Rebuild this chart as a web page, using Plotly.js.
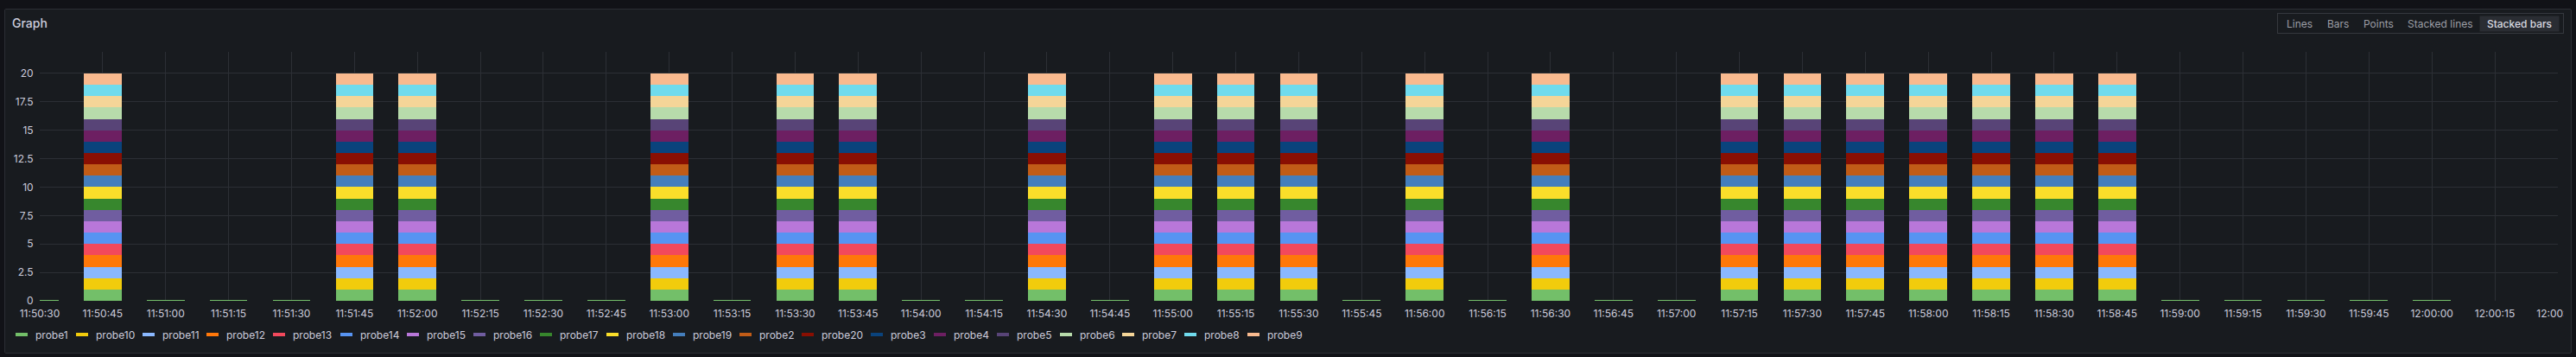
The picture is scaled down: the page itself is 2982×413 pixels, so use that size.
<!DOCTYPE html>
<html>
<head>
<meta charset="utf-8">
<script src="https://cdn.plot.ly/plotly-3.0.1.min.js"></script>
<style>
  html, body { margin: 0; padding: 0; background: #111217; width: 2982px; height: 413px; overflow: hidden; }
  #panel { position: absolute; left: 5px; top: 10px; width: 2972px; height: 399px; box-sizing: border-box;
           border: 1px solid #2b2e34; border-radius: 2px; background: #181b1f; }
  #chart { width: 2962px; height: 397px; overflow: hidden; }
</style>
</head>
<body>
<div id="panel"><div id="chart"></div></div>
<script>
// ---------- data ----------
const times = [
  '2024-01-01 11:50:30', '2024-01-01 11:50:45', '2024-01-01 11:51:00', '2024-01-01 11:51:15',
  '2024-01-01 11:51:30', '2024-01-01 11:51:45', '2024-01-01 11:52:00', '2024-01-01 11:52:15',
  '2024-01-01 11:52:30', '2024-01-01 11:52:45', '2024-01-01 11:53:00', '2024-01-01 11:53:15',
  '2024-01-01 11:53:30', '2024-01-01 11:53:45', '2024-01-01 11:54:00', '2024-01-01 11:54:15',
  '2024-01-01 11:54:30', '2024-01-01 11:54:45', '2024-01-01 11:55:00', '2024-01-01 11:55:15',
  '2024-01-01 11:55:30', '2024-01-01 11:55:45', '2024-01-01 11:56:00', '2024-01-01 11:56:15',
  '2024-01-01 11:56:30', '2024-01-01 11:56:45', '2024-01-01 11:57:00', '2024-01-01 11:57:15',
  '2024-01-01 11:57:30', '2024-01-01 11:57:45', '2024-01-01 11:58:00', '2024-01-01 11:58:15',
  '2024-01-01 11:58:30', '2024-01-01 11:58:45', '2024-01-01 11:59:00', '2024-01-01 11:59:15',
  '2024-01-01 11:59:30', '2024-01-01 11:59:45', '2024-01-01 12:00:00'
];
const xRange = ['2024-01-01 11:50:30', '2024-01-01 12:00:30.02'];

const probe1  = [0,1,0,0,0,1,1,0,0,0,1,0,1,1,0,0,1,0,1,1,1,0,1,0,1,0,0,1,1,1,1,1,1,1,0,0,0,0,0];
const probe10 = [0,1,0,0,0,1,1,0,0,0,1,0,1,1,0,0,1,0,1,1,1,0,1,0,1,0,0,1,1,1,1,1,1,1,0,0,0,0,0];
const probe11 = [0,1,0,0,0,1,1,0,0,0,1,0,1,1,0,0,1,0,1,1,1,0,1,0,1,0,0,1,1,1,1,1,1,1,0,0,0,0,0];
const probe12 = [0,1,0,0,0,1,1,0,0,0,1,0,1,1,0,0,1,0,1,1,1,0,1,0,1,0,0,1,1,1,1,1,1,1,0,0,0,0,0];
const probe13 = [0,1,0,0,0,1,1,0,0,0,1,0,1,1,0,0,1,0,1,1,1,0,1,0,1,0,0,1,1,1,1,1,1,1,0,0,0,0,0];
const probe14 = [0,1,0,0,0,1,1,0,0,0,1,0,1,1,0,0,1,0,1,1,1,0,1,0,1,0,0,1,1,1,1,1,1,1,0,0,0,0,0];
const probe15 = [0,1,0,0,0,1,1,0,0,0,1,0,1,1,0,0,1,0,1,1,1,0,1,0,1,0,0,1,1,1,1,1,1,1,0,0,0,0,0];
const probe16 = [0,1,0,0,0,1,1,0,0,0,1,0,1,1,0,0,1,0,1,1,1,0,1,0,1,0,0,1,1,1,1,1,1,1,0,0,0,0,0];
const probe17 = [0,1,0,0,0,1,1,0,0,0,1,0,1,1,0,0,1,0,1,1,1,0,1,0,1,0,0,1,1,1,1,1,1,1,0,0,0,0,0];
const probe18 = [0,1,0,0,0,1,1,0,0,0,1,0,1,1,0,0,1,0,1,1,1,0,1,0,1,0,0,1,1,1,1,1,1,1,0,0,0,0,0];
const probe19 = [0,1,0,0,0,1,1,0,0,0,1,0,1,1,0,0,1,0,1,1,1,0,1,0,1,0,0,1,1,1,1,1,1,1,0,0,0,0,0];
const probe2  = [0,1,0,0,0,1,1,0,0,0,1,0,1,1,0,0,1,0,1,1,1,0,1,0,1,0,0,1,1,1,1,1,1,1,0,0,0,0,0];
const probe20 = [0,1,0,0,0,1,1,0,0,0,1,0,1,1,0,0,1,0,1,1,1,0,1,0,1,0,0,1,1,1,1,1,1,1,0,0,0,0,0];
const probe3  = [0,1,0,0,0,1,1,0,0,0,1,0,1,1,0,0,1,0,1,1,1,0,1,0,1,0,0,1,1,1,1,1,1,1,0,0,0,0,0];
const probe4  = [0,1,0,0,0,1,1,0,0,0,1,0,1,1,0,0,1,0,1,1,1,0,1,0,1,0,0,1,1,1,1,1,1,1,0,0,0,0,0];
const probe5  = [0,1,0,0,0,1,1,0,0,0,1,0,1,1,0,0,1,0,1,1,1,0,1,0,1,0,0,1,1,1,1,1,1,1,0,0,0,0,0];
const probe6  = [0,1,0,0,0,1,1,0,0,0,1,0,1,1,0,0,1,0,1,1,1,0,1,0,1,0,0,1,1,1,1,1,1,1,0,0,0,0,0];
const probe7  = [0,1,0,0,0,1,1,0,0,0,1,0,1,1,0,0,1,0,1,1,1,0,1,0,1,0,0,1,1,1,1,1,1,1,0,0,0,0,0];
const probe8  = [0,1,0,0,0,1,1,0,0,0,1,0,1,1,0,0,1,0,1,1,1,0,1,0,1,0,0,1,1,1,1,1,1,1,0,0,0,0,0];
const probe9  = [0,1,0,0,0,1,1,0,0,0,1,0,1,1,0,0,1,0,1,1,1,0,1,0,1,0,0,1,1,1,1,1,1,1,0,0,0,0,0];

const seriesNames = ['probe1','probe10','probe11','probe12','probe13','probe14','probe15','probe16','probe17','probe18',
                     'probe19','probe2','probe20','probe3','probe4','probe5','probe6','probe7','probe8','probe9'];
const seriesValues = [probe1, probe10, probe11, probe12, probe13, probe14, probe15, probe16, probe17, probe18,
                      probe19, probe2, probe20, probe3, probe4, probe5, probe6, probe7, probe8, probe9];
const seriesColors = ['#73BF69','#F2CC0C','#8AB8FF','#FF780A','#F2495C','#5794F2','#B877D9','#705DA0','#37872D','#FADE2A',
                      '#447EBC','#C15C17','#890F02','#0A437C','#6D1F62','#584477','#B7DBAB','#F4D598','#70DBED','#F9BA8F'];

const yTickVals = [0, 2.5, 5, 7.5, 10, 12.5, 15, 17.5, 20];
const yTickText = ['0', '2.5', '5', '7.5', '10', '12.5', '15', '17.5', '20'];
const buttonLabels = ['Lines', 'Bars', 'Points', 'Stacked lines', 'Stacked bars'];
const activeButton = 4;

// ---------- geometry helpers (page pixels) ----------
const PLOT_LEFT = 46, PLOT_TOP = 60, PLOT_BOTTOM = 348;
const CHART_W = 2962;
const ctx = document.createElement('canvas').getContext('2d');
function textWidth(t, size, weight) {
  ctx.font = (weight || 400) + ' ' + size + 'px Inter';
  return ctx.measureText(t).width;
}

// ---------- traces ----------
const traces = seriesNames.map((name, i) => ({
  type: 'bar',
  name: name,
  x: times,
  y: seriesValues[i],
  marker: {
    color: seriesColors[i],
    line: { color: seriesColors[i], width: i === 0 ? seriesValues[i].map(v => v === 0 ? 3 : 0) : 0 }
  },
  showlegend: false,
  hovertemplate: name + ': %{y}<extra></extra>'
}));

// ---------- annotations: legend + view buttons ----------
const annotations = [];
let lx = 18;
const legendY = 387;
seriesNames.forEach((name, i) => {
  annotations.push({
    xref: 'paper', yref: 'paper', x: 0, y: 0, xanchor: 'left', yanchor: 'middle',
    xshift: lx - PLOT_LEFT, yshift: PLOT_BOTTOM - legendY,
    text: '\u00a0', width: 14, height: 4, bgcolor: seriesColors[i], borderpad: 0, borderwidth: 0,
    font: { size: 2 }, showarrow: false
  });
  annotations.push({
    xref: 'paper', yref: 'paper', x: 0, y: 0, xanchor: 'left', yanchor: 'middle',
    xshift: lx + 22 - PLOT_LEFT, yshift: PLOT_BOTTOM - legendY,
    text: name, borderpad: 0, font: { size: 12, color: '#ccccdc', family: 'Inter, sans-serif' }, showarrow: false
  });
  lx += 22 + textWidth(name, 12, 400) + 10;
});

// button group box
annotations.push({
  xref: 'paper', yref: 'paper', x: 0, y: 1, xanchor: 'left', yanchor: 'top',
  xshift: 2636 - PLOT_LEFT, yshift: PLOT_TOP - 15,
  text: '\u00a0', width: 330, height: 22, borderwidth: 1, bordercolor: '#35383e', borderpad: 0,
  bgcolor: 'rgba(0,0,0,0)', font: { size: 2 }, showarrow: false
});
let bx = 2647;
buttonLabels.forEach((lab, i) => {
  const active = i === activeButton;
  const w = textWidth(lab, 12, active ? 500 : 400);
  const cx = bx + w / 2;
  annotations.push({
    xref: 'paper', yref: 'paper', x: 0, y: 1, xanchor: 'center', yanchor: 'middle',
    xshift: cx - PLOT_LEFT, yshift: PLOT_TOP - 27,
    text: lab, showarrow: false, borderpad: 0,
    width: active ? Math.round(w + 16) : null, height: active ? 17 : null,
    bgcolor: active ? '#2a2d33' : 'rgba(0,0,0,0)',
    font: { size: 12, family: 'Inter, sans-serif', color: active ? '#d8d9e0' : '#9b9da5', weight: active ? 500 : 400 }
  });
  bx += w + 16.5;
});

// ---------- layout ----------
const layout = {
  width: CHART_W, height: 397,
  margin: { l: 40, r: 7, t: 49, b: 60, pad: 0 },
  paper_bgcolor: '#181b1f', plot_bgcolor: '#181b1f',
  barmode: 'stack', bargap: 0.4,
  font: { family: 'Inter, sans-serif', size: 12, color: '#ccccdc' },
  title: {
    text: 'Graph', xref: 'container', yref: 'container',
    x: 8 / CHART_W, xanchor: 'left', y: 1 - 16 / 397, yanchor: 'middle',
    font: { size: 14, weight: 500, color: '#ccccdc', family: 'Inter, sans-serif' }
  },
  xaxis: {
    type: 'date', range: xRange, tick0: xRange[0], dtick: 15000, tickformat: '%H:%M:%S',
    showgrid: true, gridcolor: '#2c2f35', gridwidth: 1, zeroline: false, showline: false,
    ticks: 'outside', ticklen: 4, tickcolor: 'rgba(0,0,0,0)', ticklabeloverflow: 'allow',
    tickfont: { size: 12, color: '#ccccdc' }, fixedrange: true
  },
  yaxis: {
    range: [0, 21.9], tickmode: 'array', tickvals: yTickVals, ticktext: yTickText,
    showgrid: true, gridcolor: '#2c2f35', gridwidth: 1, zeroline: false, showline: false,
    ticks: 'outside', ticklen: 4, tickcolor: 'rgba(0,0,0,0)',
    tickfont: { size: 12, color: '#ccccdc' }, fixedrange: true
  },
  showlegend: false,
  hovermode: 'x',
  annotations: annotations
};

Plotly.newPlot('chart', traces, layout, { displayModeBar: false, responsive: false });
</script>
</body>
</html>
